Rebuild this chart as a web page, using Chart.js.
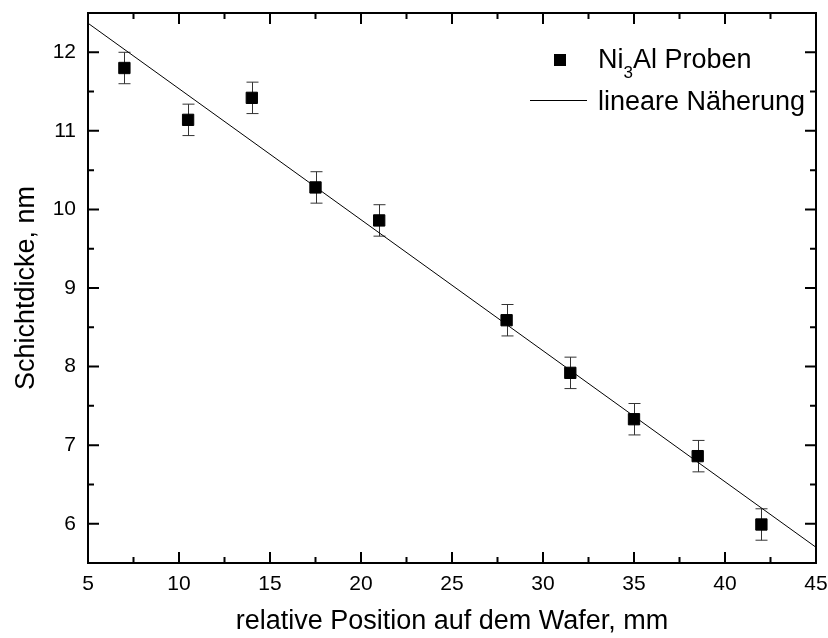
<!DOCTYPE html>
<html>
<head>
<meta charset="utf-8">
<script src="https://cdn.jsdelivr.net/npm/chart.js@4"></script>
<style>
  html, body { margin: 0; padding: 0; background: #fff; }
  #box { width: 828px; height: 638px; }
</style>
</head>
<body>
<div id="box"><canvas id="schichtChart"></canvas></div>
<script>
"use strict";
// Messwerte
const positions = [7, 10.5, 14, 17.5, 21, 28, 31.5, 35, 38.5, 42];
const thickness = [11.8, 11.14, 11.42, 10.28, 9.86, 8.59, 7.92, 7.33, 6.86, 5.99];
const errors = [0.2, 0.2, 0.2, 0.2, 0.2, 0.2, 0.2, 0.2, 0.2, 0.2];
// lineare Näherung (Endpunkte)
const fitX = [5, 45];
const fitY = [12.37, 5.70];
// Achsen
const xTicks = [5, 10, 15, 20, 25, 30, 35, 40, 45];
const xMinor = [7.5, 12.5, 17.5, 22.5, 27.5, 32.5, 37.5, 42.5];
const yTicks = [6, 7, 8, 9, 10, 11, 12];
const yMinor = [5.5, 6.5, 7.5, 8.5, 9.5, 10.5, 11.5, 12.5];

const fontName = "'Liberation Sans', Arial, sans-serif";

function toPoints(xs, ys) {
    return xs.map((x, i) => ({ x: x, y: ys[i] }));
}

const errorBars = {
    id: 'errorBars',
    beforeDatasetsDraw(chart) {
        const ctx = chart.ctx;
        const xs = chart.scales.x;
        const ys = chart.scales.y;
        ctx.save();
        ctx.strokeStyle = '#333';
        ctx.lineWidth = 1;
        positions.forEach((p, i) => {
            const px = Math.round(xs.getPixelForValue(p)) + 0.5;
            const top = ys.getPixelForValue(thickness[i] + errors[i]);
            const bottom = ys.getPixelForValue(thickness[i] - errors[i]);
            ctx.beginPath();
            ctx.moveTo(px, top);
            ctx.lineTo(px, bottom);
            ctx.moveTo(px - 6, top);
            ctx.lineTo(px + 6, top);
            ctx.moveTo(px - 6, bottom);
            ctx.lineTo(px + 6, bottom);
            ctx.stroke();
        });
        ctx.restore();
    }
};

const frameAndTicks = {
    id: 'frameAndTicks',
    afterDraw(chart) {
        const ctx = chart.ctx;
        const area = chart.chartArea;
        const xs = chart.scales.x;
        const ys = chart.scales.y;
        ctx.save();
        ctx.strokeStyle = '#000';
        ctx.lineWidth = 2;
        ctx.strokeRect(area.left, area.top, area.right - area.left, area.bottom - area.top);
        function xTick(v, len) {
            const px = xs.getPixelForValue(v);
            ctx.beginPath();
            ctx.moveTo(px, area.bottom);
            ctx.lineTo(px, area.bottom - len);
            ctx.moveTo(px, area.top);
            ctx.lineTo(px, area.top + len);
            ctx.stroke();
        }
        function yTick(v, len) {
            const py = ys.getPixelForValue(v);
            ctx.beginPath();
            ctx.moveTo(area.left, py);
            ctx.lineTo(area.left + len, py);
            ctx.moveTo(area.right, py);
            ctx.lineTo(area.right - len, py);
            ctx.stroke();
        }
        xTicks.forEach(v => xTick(v, 11));
        xMinor.forEach(v => xTick(v, 6));
        yTicks.forEach(v => yTick(v, 11));
        yMinor.forEach(v => yTick(v, 6));

        // Legende
        ctx.fillStyle = '#000';
        ctx.fillRect(554, 54, 12, 12);
        ctx.lineWidth = 1;
        ctx.beginPath();
        ctx.moveTo(530, 100.5);
        ctx.lineTo(587, 100.5);
        ctx.stroke();
        ctx.font = '27px ' + fontName;
        ctx.textBaseline = 'alphabetic';
        ctx.textAlign = 'left';
        let x = 598;
        ctx.fillText('Ni', x, 68);
        x += ctx.measureText('Ni').width;
        ctx.font = '17px ' + fontName;
        ctx.fillText('3', x, 78);
        x += ctx.measureText('3').width;
        ctx.font = '27px ' + fontName;
        ctx.fillText('Al Proben', x, 68);
        ctx.fillText('lineare Näherung', 598, 110);
        ctx.restore();
    }
};

document.addEventListener('DOMContentLoaded', () => {
    const context = document.getElementById('schichtChart');
    const data = {
        datasets: [{
            label: 'Ni3Al Proben',
            type: 'scatter',
            data: toPoints(positions, thickness),
            pointStyle: 'rect',
            pointRadius: 8,
            pointHoverRadius: 8,
            backgroundColor: '#000',
            borderColor: '#000',
            borderWidth: 1,
        }, {
            label: 'lineare Näherung',
            type: 'line',
            data: toPoints(fitX, fitY),
            borderColor: '#000',
            borderWidth: 1,
            pointRadius: 0,
            fill: false,
        }],
    };
    new Chart(context, {
        type: 'scatter',
        data: data,
        options: {
            responsive: true,
            maintainAspectRatio: false,
            animation: false,
            layout: { padding: { top: 13, right: 12, left: 0, bottom: 0 } },
            plugins: {
                legend: { display: false },
                tooltip: { enabled: false },
            },
            scales: {
                x: {
                    type: 'linear',
                    min: 5,
                    max: 45,
                    afterBuildTicks: (scale) => { scale.ticks = xTicks.map(v => ({ value: v })); },
                    afterFit: (scale) => {
                        scale.height = 75;
                        scale.paddingLeft = 0;
                        scale.paddingRight = 0;
                    },
                    grid: { display: false, drawTicks: false },
                    border: { display: false },
                    ticks: {
                        color: '#000',
                        padding: 9,
                        maxRotation: 0,
                        font: { family: fontName, size: 21 },
                    },
                    title: {
                        display: true,
                        text: 'relative Position auf dem Wafer, mm',
                        color: '#000',
                        padding: { top: 0, bottom: 0 },
                        font: { family: fontName, size: 27 },
                    },
                },
                y: {
                    type: 'linear',
                    min: 5.5,
                    max: 12.5,
                    afterBuildTicks: (scale) => { scale.ticks = yTicks.map(v => ({ value: v })); },
                    afterFit: (scale) => {
                        scale.width = 88;
                        scale.paddingTop = 0;
                        scale.paddingBottom = 0;
                    },
                    grid: { display: false, drawTicks: false },
                    border: { display: false },
                    ticks: {
                        color: '#000',
                        padding: 12,
                        font: { family: fontName, size: 21 },
                    },
                    title: {
                        display: true,
                        text: 'Schichtdicke, nm',
                        color: '#000',
                        padding: { top: 10, bottom: 0 },
                        font: { family: fontName, size: 27 },
                    },
                },
            },
        },
        plugins: [errorBars, frameAndTicks],
    });
});
</script>
</body>
</html>
